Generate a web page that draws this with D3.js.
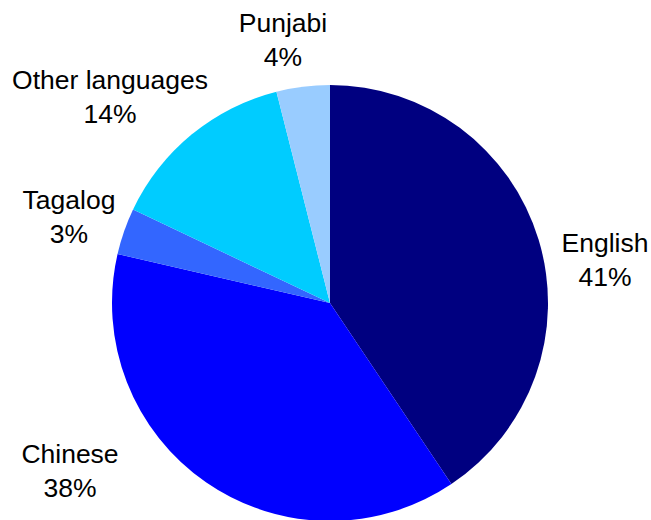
<!DOCTYPE html>
<html>
<head>
<meta charset="utf-8">
<script src="https://cdn.jsdelivr.net/npm/d3@7"></script>
<style>
  body { margin: 0; background: #fff; }
  svg { display: block; }
</style>
</head>
<body>
<div id="chart"></div>
<script>
const languages = ["English", "Chinese", "Tagalog", "Other languages", "Punjabi"];
const shares = [40.6, 38.0, 3.45, 14.0, 3.95];
const colors = ["#000080", "#0000ff", "#3366ff", "#00ccff", "#99ccff"];

const width = 651, height = 520;
const cx = 330, cy = 303, radius = 218;

// label anchor points (text centre, first baseline)
const labelPos = {
  "English": [605, 252],
  "Chinese": [70, 463],
  "Tagalog": [69, 209],
  "Other languages": [110, 89],
  "Punjabi": [283, 32]
};

const data = languages.map((name, i) => ({ name, value: shares[i], color: colors[i] }));

const svg = d3.select("#chart").append("svg")
  .attr("width", width)
  .attr("height", height);

const pie = d3.pie().sort(null).value(d => d.value);
const arc = d3.arc().innerRadius(0).outerRadius(radius);

const total = d3.sum(shares);
const pct = d => Math.round(d.value / total * 100) + "%";

const g = svg.append("g")
  .attr("transform", "translate(" + cx + "," + cy + ")");

g.selectAll("path")
  .data(pie(data))
  .join("path")
  .attr("d", arc)
  .attr("fill", d => d.data.color);

// Labels
const labels = svg.append("g")
  .attr("font-family", "Liberation Sans, Arial, sans-serif")
  .attr("font-size", 26.5)
  .attr("fill", "#000")
  .attr("text-anchor", "middle");

labels.selectAll("text")
  .data(data)
  .join("text")
  .attr("x", d => labelPos[d.name][0])
  .attr("y", d => labelPos[d.name][1])
  .call(t => t.append("tspan").text(d => d.name))
  .call(t => t.append("tspan")
    .attr("x", d => labelPos[d.name][0])
    .attr("dy", 34)
    .text(pct));
</script>
</body>
</html>
